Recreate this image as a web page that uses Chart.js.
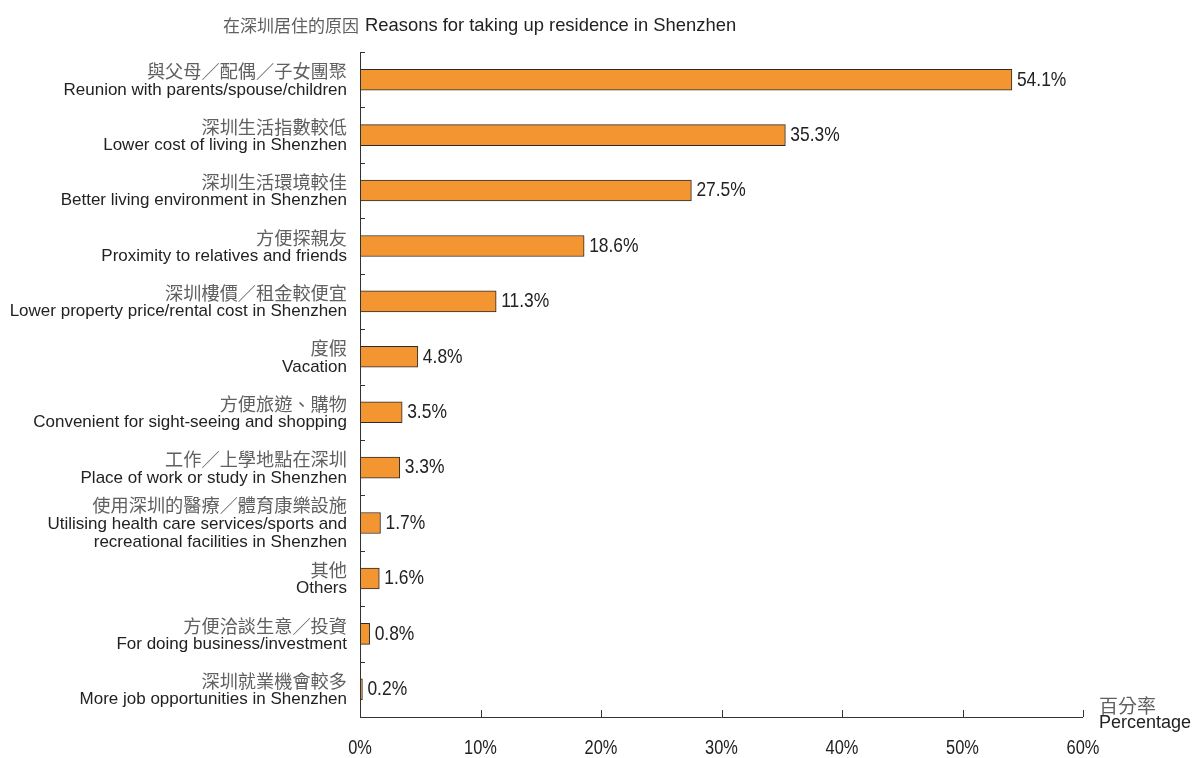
<!DOCTYPE html>
<html>
<head>
<meta charset="utf-8">
<script src="https://cdn.jsdelivr.net/npm/chart.js@4/dist/chart.umd.min.js"></script>
<style>
  html, body { margin: 0; padding: 0; background: #fff; }
  #wrap { width: 1193px; height: 758px; position: relative; }
</style>
</head>
<body>
<div id="wrap"><canvas id="chart"></canvas></div>
<script>
const labelsZh = [
  "與父母／配偶／子女團聚",
  "深圳生活指數較低",
  "深圳生活環境較佳",
  "方便探親友",
  "深圳樓價／租金較便宜",
  "度假",
  "方便旅遊、購物",
  "工作／上學地點在深圳",
  "使用深圳的醫療／體育康樂設施",
  "其他",
  "方便洽談生意／投資",
  "深圳就業機會較多"
];
const labelsEn = [
  ["Reunion with parents/spouse/children"],
  ["Lower cost of living in Shenzhen"],
  ["Better living environment in Shenzhen"],
  ["Proximity to relatives and friends"],
  ["Lower property price/rental cost in Shenzhen"],
  ["Vacation"],
  ["Convenient for sight-seeing and shopping"],
  ["Place of work or study in Shenzhen"],
  ["Utilising health care services/sports and", "recreational facilities in Shenzhen"],
  ["Others"],
  ["For doing business/investment"],
  ["More job opportunities in Shenzhen"]
];
const percentages = [54.1, 35.3, 27.5, 18.6, 11.3, 4.8, 3.5, 3.3, 1.7, 1.6, 0.8, 0.2];
const xTicks = [0, 10, 20, 30, 40, 50, 60];

const FONT = '"Liberation Sans", Arial, sans-serif';
const CJK = '"Noto Sans CJK TC", "Noto Sans CJK SC", sans-serif';
const GREY = "#606060";
const DARK = "#222";

// numbers use a tall, narrow face: squeeze a larger font horizontally
function narrowText(ctx, text, x, y, sx) {
  ctx.save();
  ctx.translate(x, y);
  ctx.scale(sx, 1);
  ctx.fillText(text, 0, 0);
  ctx.restore();
}

// axes, ticks and all text are painted here from the chart's own scales
const decorations = {
  id: "decorations",
  afterDatasetsDraw(chart) {
    const { ctx, scales: { x, y }, chartArea: area } = chart;
    ctx.save();
    ctx.strokeStyle = "#333";
    ctx.lineWidth = 1;

    // y axis with boundary ticks between categories
    ctx.beginPath();
    ctx.moveTo(area.left + 0.5, area.top);
    ctx.lineTo(area.left + 0.5, area.bottom);
    const step = (area.bottom - area.top) / labelsZh.length;
    for (let i = 0; i < labelsZh.length; i++) {
      const yy = Math.round(y.getPixelForValue(i) - step / 2) + 0.5;
      ctx.moveTo(area.left, yy);
      ctx.lineTo(area.left + 5, yy);
    }
    // x axis with inward ticks
    ctx.moveTo(area.left, area.bottom + 0.5);
    ctx.lineTo(area.right, area.bottom + 0.5);
    xTicks.forEach(v => {
      const xx = Math.round(x.getPixelForValue(v)) + 0.5;
      ctx.moveTo(xx, area.bottom);
      ctx.lineTo(xx, area.bottom - 7);
    });
    ctx.stroke();

    // x tick labels
    ctx.fillStyle = DARK;
    ctx.font = "20px " + FONT;
    ctx.textAlign = "center";
    ctx.textBaseline = "middle";
    xTicks.forEach(v => narrowText(ctx, v + "%", x.getPixelForValue(v), 748, 0.82));

    // axis unit
    ctx.textAlign = "left";
    ctx.fillStyle = GREY;
    ctx.font = "19px " + CJK;
    ctx.fillText("百分率", area.right + 16, 706);
    ctx.fillStyle = DARK;
    ctx.font = "18px " + FONT;
    ctx.fillText("Percentage", area.right + 16, 723);

    // category labels
    ctx.textAlign = "right";
    const lh = 18.5;
    labelsZh.forEach((zh, i) => {
      const lines = [zh].concat(labelsEn[i]);
      const cy = y.getPixelForValue(i) + 1;
      const top = cy - (lines.length - 1) * lh / 2;
      lines.forEach((t, j) => {
        if (j === 0) { ctx.font = "18.2px " + CJK; ctx.fillStyle = GREY; }
        else { ctx.font = "17px " + FONT; ctx.fillStyle = DARK; }
        ctx.fillText(t, area.left - 13, top + j * lh);
      });
    });

    // value labels
    ctx.textAlign = "left";
    ctx.fillStyle = DARK;
    ctx.font = "21px " + FONT;
    const meta = chart.getDatasetMeta(0);
    meta.data.forEach((bar, i) => {
      narrowText(ctx, percentages[i].toFixed(1) + "%", bar.x + 5, bar.y, 0.83);
    });

    // title
    ctx.font = "17px " + CJK;
    ctx.fillStyle = GREY;
    const zhTitle = "在深圳居住的原因";
    ctx.fillText(zhTitle, 223, 26);
    const w = ctx.measureText(zhTitle).width;
    ctx.font = "18.4px " + FONT;
    ctx.fillStyle = DARK;
    ctx.fillText("Reasons for taking up residence in Shenzhen", 223 + w + 6, 26);
    ctx.restore();
  }
};

new Chart(document.getElementById("chart"), {
  type: "bar",
  data: {
    labels: labelsZh,
    datasets: [{
      data: percentages,
      backgroundColor: "#F39531",
      borderColor: "#2b2b2b",
      borderWidth: 1,
      borderSkipped: false,
      barThickness: 21
    }]
  },
  options: {
    indexAxis: "y",
    responsive: true,
    maintainAspectRatio: false,
    animation: false,
    layout: { padding: { left: 360, right: 110, top: 52, bottom: 41 } },
    plugins: { legend: { display: false }, tooltip: { enabled: false } },
    scales: {
      x: { display: false, min: 0, max: 60 },
      y: { display: false, offset: true }
    }
  },
  plugins: [decorations]
});
</script>
</body>
</html>
